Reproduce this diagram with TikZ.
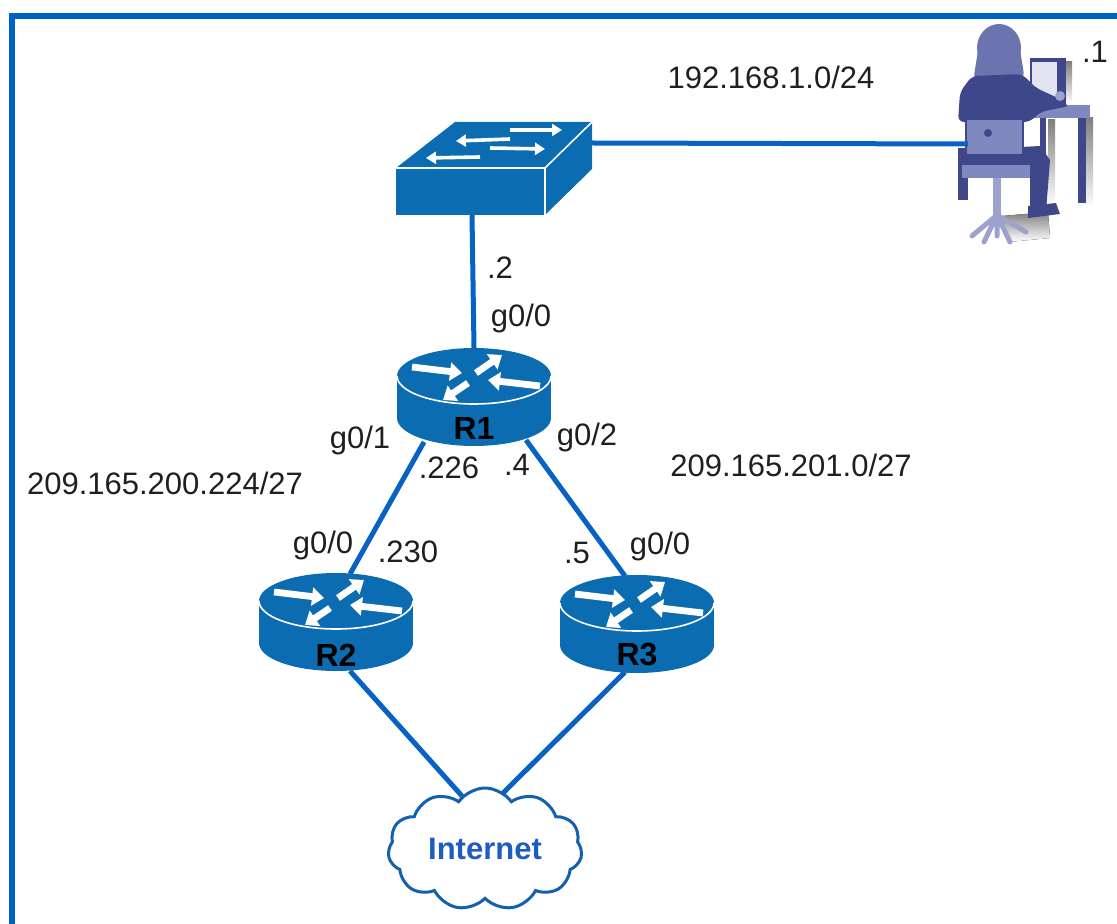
\documentclass[tikz,border=0pt]{standalone}
\usepackage{fontspec}
\setmainfont{Liberation Sans}
\usetikzlibrary{arrows.meta,shapes.symbols}

\definecolor{cisco}{RGB}{12,108,178}
\definecolor{wire}{RGB}{8,98,196}
\definecolor{frameblue}{RGB}{0,98,196}
\definecolor{cloudblue}{RGB}{20,96,176}
\definecolor{inetblue}{RGB}{30,92,196}
\definecolor{hair}{RGB}{108,116,176}
\definecolor{navy}{RGB}{61,71,138}
\definecolor{chair}{RGB}{128,136,192}
\definecolor{steel}{RGB}{156,162,204}
\definecolor{screen}{RGB}{226,228,242}
\definecolor{shade}{RGB}{206,196,156}

\tikzset{
  x=0.5pt, y=-0.5pt,
  lbl/.style={font=\fontsize{15.5}{18}\selectfont, text=black!88, inner sep=0},
  rlbl/.style={font=\fontsize{16}{18}\selectfont\bfseries, text=black, inner sep=0},
  link/.style={draw=wire, line width=2.5pt},
  wht/.style={draw=white, line width=3.4pt, -{Triangle[width=9pt,length=6pt]}},
  swarrow/.style={draw=white, line width=1.8pt, -{Triangle[width=6pt,length=5pt]}},
  router/.pic={
    \fill[cisco] (0,42) ellipse[x radius=77, y radius=28];
    \fill[cisco] (-77,0) rectangle (77,42);
    \fill[cisco] (0,0) ellipse[x radius=77, y radius=28];
    \draw[white, line width=0.8pt] (-77,0) arc[start angle=180, end angle=0, x radius=77, y radius=28];
    \draw[wht] (-62,-9) -- (-12,-3);
    \draw[wht] (2,-3) -- (28,-21);
    \draw[wht] (66,10) -- (14,4);
    \draw[wht] (-6,7) -- (-31,24);
    \coordinate (-nne) at (14,-27);
    \coordinate (-nnw) at (-12,-27);
    \coordinate (-sw) at (-50,66);
    \coordinate (-se) at (52,64);
    \coordinate (-sse) at (14,70);
    \coordinate (-ssw) at (-12,69);
    \coordinate (-n) at (0,-28);
  }
}

\begin{document}
\begin{tikzpicture}
\useasboundingbox (0,0) rectangle (1117,924);

% outer frame (left and top edges)
\draw[frameblue, line width=3pt] (12,924) -- (12,16) -- (1117,16);

% --- switch ---
\fill[cisco] (396,168) rectangle (545,215);
\fill[cisco] (396,168) -- (455,122) -- (592,122) -- (545,168) -- cycle;
\fill[cisco] (545,168) -- (592,122) -- (592,169) -- (545,215) -- cycle;
\draw[white, line width=0.8pt] (396,168) -- (545,168) -- (592,122);
\draw[white, line width=0.8pt] (545,168) -- (545,215);
\draw[swarrow] (510,130) -- (562,130);
\draw[swarrow] (510,139) -- (456,141);
\draw[swarrow] (490,148) -- (545,149);
\draw[swarrow] (480,157) -- (426,158);
\coordinate (sw-s) at (472,215);
\coordinate (sw-e) at (592,143);

% --- routers ---
\pic (r1) at (474,376) {router};
\pic (r2) at (336,601) {router};
\pic (r3) at (637,603) {router};
\node[rlbl] (r1lbl) at (474,428) {R1};
\node[rlbl] (r2lbl) at (336,655) {R2};
\node[rlbl] (r3lbl) at (637,655) {R3};

% --- PC user ---
\coordinate (pc-w) at (968,144);
\begin{scope}
  % shadows
  \fill[shade] (1086,118) rectangle (1093,208);
  \fill[shade] (1048,120) rectangle (1055,205);
  \fill[shade] (1066,62) rectangle (1072,104);
  \fill[shade] (1002,216) -- (1048,212) -- (1050,238) -- (1008,242) -- cycle;
  % monitor
  \fill[navy] (1030,58) rectangle (1066,104);
  \fill[screen] (1032,62) rectangle (1057,98);
  % desk
  \fill[chair] (1022,105) rectangle (1090,118);
  \fill[navy] (1078,118) rectangle (1086,203);
  \fill[navy] (1040,118) rectangle (1046,200);
  % hair and head
  \fill[hair, rounded corners=8pt] (980,38) -- (1018,38) -- (1026,86) -- (972,88) -- cycle;
  \fill[hair] (999,48) ellipse[x radius=22, y radius=24];
  % torso and arm
  \fill[navy, rounded corners=3pt] (958,122) -- (960,92) -- (972,76) -- (1022,74) -- (1036,88)
     -- (1058,98) -- (1070,106) -- (1040,112) -- (1030,122) -- cycle;
  \fill[steel] (1060,96) circle[radius=5];
  % legs
  \fill[navy] (965,150) -- (1040,146) -- (1050,160) -- (1046,212) -- (1030,212)
     -- (1030,172) -- (965,174) -- cycle;
  \fill[navy] (1028,206) -- (1056,203) -- (1060,214) -- (1028,218) -- cycle;
  \fill[navy] (958,148) rectangle (968,200);
  % chair
  \fill[chair] (966,119) rectangle (1023,155);
  \draw[navy, line width=0.8pt] (966,119) rectangle (1023,155);
  \fill[navy] (988,133) circle[radius=4];
  \fill[chair] (962,165) rectangle (1030,178);
  \fill[steel] (993,178) rectangle (1001,216);
  \draw[steel, line width=2.5pt, line cap=round]
     (997,215) -- (972,236) (997,215) -- (984,242) (997,215) -- (1010,242)
     (997,215) -- (1026,232) (997,215) -- (997,236);
\end{scope}

% --- links ---
\draw[link] (sw-e) -- (pc-w);
\draw[link] (sw-s) -- (r1-n);
\draw[link] (r1-sw) -- (r2-nne);
\draw[link] (r1-se) -- (r3-nnw);
\coordinate (inA) at (462,796);
\coordinate (inB) at (500,796);
\draw[link] (r2-sse) -- (inA);
\draw[link] (r3-ssw) -- (inB);

% --- internet cloud ---
\node[cloud, cloud puffs=11, cloud puff arc=110, aspect=1.6,
      draw=cloudblue, line width=1.5pt, fill=white,
      minimum width=97pt, minimum height=61pt, inner sep=0,
      font=\fontsize{15.5}{18}\selectfont\bfseries, text=inetblue]
      (inet) at (485,849) {Internet};

% --- labels ---
\node[lbl] (net1) at (771,77) {192.168.1.0/24};
\node[lbl] (pcip) at (1095,52) {.1};
\node[lbl] (r1ip) at (500,268) {.2};
\node[lbl] (r1g0) at (521,318) {g0/0};
\node[lbl] (r1g1) at (360,440) {g0/1};
\node[lbl] (r1g2) at (587,437) {g0/2};
\node[lbl] (net2) at (165,483) {209.165.200.224/27};
\node[lbl] (ip226) at (449,468) {.226};
\node[lbl] (ip4) at (517,465) {.4};
\node[lbl] (net3) at (791,465) {209.165.201.0/27};
\node[lbl] (r2g0) at (323,545) {g0/0};
\node[lbl] (ip230) at (408,552) {.230};
\node[lbl] (ip5) at (577,553) {.5};
\node[lbl] (r3g0) at (660,546) {g0/0};
\end{tikzpicture}
\end{document}
